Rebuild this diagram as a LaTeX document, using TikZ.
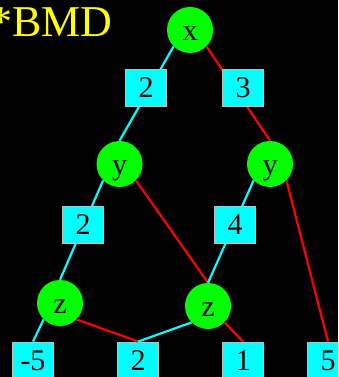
\documentclass[tikz,border=0pt]{standalone}
\usepackage{fontspec}
\setmainfont{Liberation Serif}
\usepackage{tikz}
\definecolor{bmdgreen}{RGB}{0,255,0}
\definecolor{bmdcyan}{RGB}{0,255,255}
\definecolor{bmdred}{RGB}{255,0,0}
\definecolor{bmdyellow}{RGB}{255,255,0}
\tikzset{
  bmd_v/.style = {circle, fill=bmdgreen, minimum size=46pt, inner sep=0pt,
    font=\fontsize{30}{30}\selectfont, text height=21pt, text depth=0pt},% noeud variable
  bmd_w/.style = {rectangle, fill=bmdcyan, draw=white!75!black, line width=0.8pt,
    minimum width=41pt, minimum height=37pt, inner sep=0pt,
    font=\fontsize{30}{30}\selectfont},% poids ou feuille
  bmd_lo/.style = {draw=bmdcyan, line width=2.2pt},% arc 0
  bmd_hi/.style = {draw=bmdred, line width=2.2pt}% arc 1
}

\begin{document}
\begin{tikzpicture}[x=1pt,y=-1pt]
\useasboundingbox (0,0) rectangle (338,377);
\clip (0,0) rectangle (338,377);
\fill [black] (0,0) rectangle (338,377);
\node [anchor=base west, inner sep=0pt, text=bmdyellow,
  font=\fontsize{44}{44}\selectfont] (titre) at (-10,37) {*BMD};

% variables
\node [bmd_v] (x) at (190,30) {x};
\node [bmd_v] (y0) at (119.5,164) {y};
\node [bmd_v] (y1) at (270,164) {y};
\node [bmd_v] (z0) at (60,303) {z};
\node [bmd_v] (z1) at (208,306) {z};
% feuilles
\node [bmd_w] (t0) at (33,360.5) {-5};
\node [bmd_w] (t1) at (138,360.5) {2};
\node [bmd_w] (t2) at (243,360.5) {1};
\node [bmd_w] (t3) at (328,360.5) {5};

% arcs
\draw [bmd_lo] (x.south west) -- (y0.north);
\draw [bmd_hi] (x.south east) -- (y1.north);
\draw [bmd_lo] (y0.south west) -- (z0.north);
\draw [bmd_hi] (y0.south east) -- (z1.north);
\draw [bmd_lo] (y1.south west) -- (z1.north);
\draw [bmd_hi] (y1.south east) -- (t3.north);
\draw [bmd_lo] (z0.south west) -- (t0.north);
\draw [bmd_hi] (z0.south east) -- (t1.north);
\draw [bmd_lo] (z1.south west) -- (t1.north);
\draw [bmd_hi] (z1.south east) -- (t2.north);

% poids sur les arcs
\node [bmd_w] (wx0) at (146,88) {2};
\node [bmd_w] (wx1) at (243,88) {3};
\node [bmd_w] (wy0) at (83,225) {2};
\node [bmd_w] (wy1) at (235,225) {4};
\end{tikzpicture}
\end{document}
